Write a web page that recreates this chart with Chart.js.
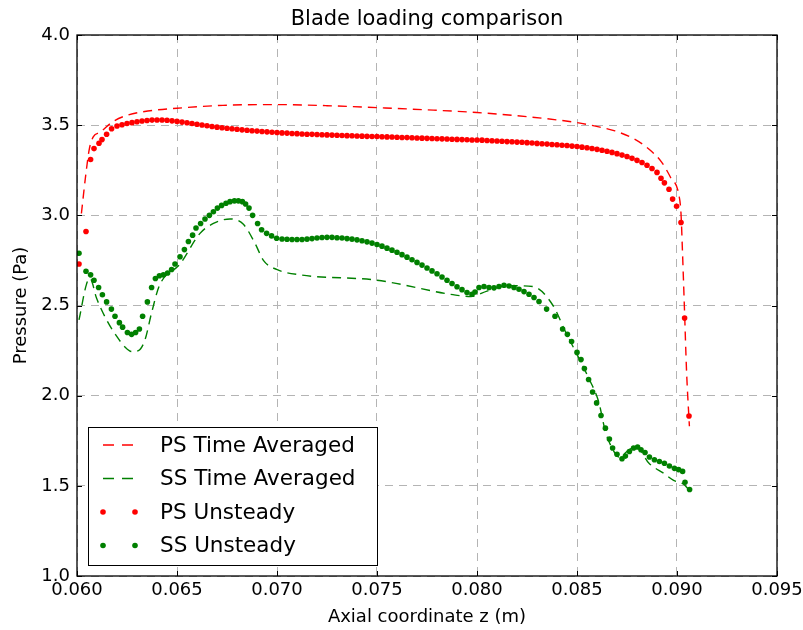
<!DOCTYPE html>
<html>
<head>
<meta charset="utf-8">
<script src="https://cdn.jsdelivr.net/npm/chart.js@4.4.1/dist/chart.umd.min.js"></script>
<style>
  html, body { margin: 0; padding: 0; background: #fff; }
  #wrap { width: 803px; height: 630px; }
</style>
</head>
<body>
<div id="wrap"><canvas id="bladeChart" width="803" height="630"></canvas></div>
<script>
// data
const psAvgZ = [0.06022, 0.06045, 0.06062, 0.06082, 0.06115, 0.0618, 0.06257, 0.06365, 0.065, 0.0673, 0.070, 0.0725, 0.075, 0.0775, 0.080, 0.0825, 0.085, 0.08615, 0.0869, 0.08782, 0.08862, 0.08923, 0.08968, 0.0901, 0.0902, 0.09027, 0.09037, 0.09048, 0.09062];
const psAvgP = [3.01, 3.235, 3.37, 3.436, 3.46, 3.52, 3.557, 3.58, 3.594, 3.61, 3.614, 3.608, 3.597, 3.585, 3.57, 3.547, 3.514, 3.489, 3.468, 3.426, 3.365, 3.295, 3.21, 3.11, 3.01, 2.81, 2.49, 2.13, 1.83];

const ssAvgZ = [0.0601, 0.06048, 0.06065, 0.06098, 0.06148, 0.06198, 0.0624, 0.06273, 0.06307, 0.0634, 0.06373, 0.06412, 0.06515, 0.06615, 0.06682, 0.06765, 0.06832, 0.0689, 0.06932, 0.06998, 0.07115, 0.075, 0.0788, 0.0797, 0.0805, 0.0815, 0.0828, 0.0838, 0.0844, 0.0849, 0.08555, 0.0861, 0.0864, 0.08675, 0.0871, 0.0876, 0.08795, 0.0886, 0.08933, 0.08983, 0.09032, 0.09058];
const ssAvgP = [2.42, 2.62, 2.65, 2.54, 2.42, 2.33, 2.27, 2.245, 2.25, 2.31, 2.46, 2.61, 2.73, 2.90, 2.955, 2.98, 2.95, 2.845, 2.75, 2.70, 2.67, 2.64, 2.56, 2.55, 2.58, 2.61, 2.605, 2.50, 2.36, 2.25, 2.105, 1.96, 1.81, 1.71, 1.66, 1.70, 1.72, 1.625, 1.57, 1.53, 1.51, 1.48];

const psUnsZ = [0.0601, 0.06045, 0.06068, 0.06085, 0.0611, 0.06125, 0.06148, 0.06173,
  0.06200, 0.06225, 0.06250, 0.06275, 0.06300, 0.06325, 0.06350, 0.06375, 0.06400, 0.06425,
  0.06450, 0.06475, 0.06500, 0.06525, 0.06550, 0.06575, 0.06600, 0.06625, 0.06650, 0.06675,
  0.06700, 0.06725, 0.06750, 0.06775, 0.06800, 0.06825, 0.06850, 0.06875, 0.06900, 0.06925,
  0.06950, 0.06975, 0.07000, 0.07025, 0.07050, 0.07075, 0.07100, 0.07125, 0.07150, 0.07175,
  0.07200, 0.07225, 0.07250, 0.07275, 0.07300, 0.07325, 0.07350, 0.07375, 0.07400, 0.07425,
  0.07450, 0.07475, 0.07500, 0.07525, 0.07550, 0.07575, 0.07600, 0.07625, 0.07650, 0.07675,
  0.07700, 0.07725, 0.07750, 0.07775, 0.07800, 0.07825, 0.07850, 0.07875, 0.07900, 0.07925,
  0.07950, 0.07975, 0.08000, 0.08025, 0.08050, 0.08075, 0.08100, 0.08125, 0.08150, 0.08175,
  0.08200, 0.08225, 0.08250, 0.08275, 0.08300, 0.08325, 0.08350, 0.08375, 0.08400, 0.08425,
  0.08450, 0.08475, 0.08500, 0.08525, 0.08550, 0.08575, 0.08600, 0.08625, 0.08650, 0.08675,
  0.08700, 0.08725, 0.08750, 0.08775, 0.08800, 0.08825, 0.08850, 0.08875, 0.08900,
  0.0892, 0.08937, 0.0896, 0.08978, 0.08998, 0.0902, 0.09038, 0.0906];
const psUnsP = [2.73, 2.91, 3.31, 3.37, 3.40, 3.42, 3.45, 3.48,
  3.495, 3.502, 3.509, 3.514, 3.519, 3.523, 3.526, 3.528, 3.529, 3.529,
  3.527, 3.524, 3.521, 3.517, 3.513, 3.509, 3.505, 3.501, 3.497, 3.493,
  3.489, 3.486, 3.483, 3.480, 3.477, 3.474, 3.472, 3.469, 3.467, 3.465,
  3.463, 3.461, 3.459, 3.457, 3.456, 3.454, 3.453, 3.451, 3.450, 3.449,
  3.448, 3.447, 3.446, 3.445, 3.444, 3.443, 3.442, 3.441, 3.440, 3.439,
  3.438, 3.437, 3.437, 3.436, 3.435, 3.434, 3.433, 3.432, 3.431, 3.430,
  3.429, 3.428, 3.427, 3.426, 3.425, 3.424, 3.423, 3.422, 3.421, 3.420,
  3.419, 3.418, 3.418, 3.417, 3.415, 3.414, 3.412, 3.411, 3.409, 3.408,
  3.406, 3.405, 3.403, 3.401, 3.399, 3.397, 3.395, 3.393, 3.391, 3.389,
  3.387, 3.384, 3.382, 3.378, 3.375, 3.371, 3.366, 3.361, 3.355, 3.349,
  3.342, 3.334, 3.326, 3.316, 3.305, 3.293, 3.278, 3.260, 3.238,
  3.206, 3.18, 3.145, 3.09, 3.05, 2.96, 2.43, 1.887];

const ssUnsZ = [0.0601, 0.06045, 0.06068, 0.06085, 0.06108, 0.06127, 0.06148, 0.06172, 0.0619, 0.06212,
  0.06228, 0.06252, 0.06273, 0.06293, 0.06312, 0.06328, 0.06352, 0.06373, 0.06392, 0.06412,
  0.06432, 0.06453, 0.06473, 0.0649, 0.06515, 0.06537, 0.06557, 0.06578, 0.06595, 0.06618,
  0.0664, 0.06662, 0.06682, 0.06702, 0.06723, 0.06745, 0.06765, 0.06787, 0.06807, 0.06827,
  0.06843, 0.0686, 0.06878, 0.06903, 0.06923, 0.06948, 0.06973, 0.06998,
  0.07025, 0.0705, 0.07075, 0.071, 0.07125, 0.0715, 0.07175, 0.072, 0.07225, 0.0725,
  0.07275, 0.073, 0.07325, 0.0735, 0.07375, 0.074, 0.07425, 0.0745, 0.07475, 0.075,
  0.07525, 0.0755, 0.07575, 0.076, 0.07625, 0.0765, 0.07675, 0.077, 0.07725, 0.0775,
  0.07775, 0.078, 0.07825, 0.0785, 0.07875, 0.079, 0.07925, 0.0795, 0.07975, 0.0799,
  0.0801, 0.08035, 0.0806, 0.08085, 0.0811, 0.08135, 0.0816, 0.08185, 0.0821, 0.08235,
  0.0826, 0.08285, 0.0831, 0.08348, 0.0839, 0.08428, 0.08452, 0.08473, 0.0850, 0.0852,
  0.08537, 0.08558, 0.08578, 0.08598, 0.0862, 0.08642, 0.08662, 0.08678, 0.087, 0.08725,
  0.08742, 0.08762, 0.08783, 0.08803, 0.0882, 0.0884, 0.08862, 0.08887, 0.08912, 0.08937,
  0.08962, 0.08987, 0.09008, 0.09028, 0.0904, 0.09063];
const ssUnsP = [2.79, 2.69, 2.67, 2.64, 2.60, 2.56, 2.52, 2.48, 2.44, 2.405,
  2.38, 2.35, 2.34, 2.35, 2.37, 2.44, 2.52, 2.60, 2.65, 2.665,
  2.67, 2.68, 2.70, 2.73, 2.77, 2.81, 2.855, 2.89, 2.93, 2.955,
  2.98, 3.00, 3.02, 3.04, 3.055, 3.067, 3.076, 3.08, 3.08, 3.076,
  3.063, 3.04, 3.00, 2.955, 2.92, 2.90, 2.886, 2.873,
  2.869, 2.867, 2.866, 2.866, 2.866, 2.868, 2.871, 2.874, 2.877, 2.878,
  2.878, 2.876, 2.874, 2.871, 2.868, 2.864, 2.859, 2.853, 2.846, 2.838,
  2.829, 2.818, 2.807, 2.795, 2.782, 2.768, 2.754, 2.739, 2.724, 2.708,
  2.692, 2.676, 2.658, 2.64, 2.622, 2.604, 2.588, 2.572, 2.562, 2.575,
  2.60, 2.605, 2.60, 2.598, 2.605, 2.612, 2.608, 2.60, 2.59, 2.577,
  2.562, 2.544, 2.522, 2.48, 2.44, 2.37, 2.34, 2.30, 2.24, 2.20,
  2.15, 2.09, 2.02, 1.96, 1.89, 1.82, 1.76, 1.71, 1.675, 1.65,
  1.665, 1.69, 1.71, 1.715, 1.70, 1.685, 1.66, 1.645, 1.635, 1.625,
  1.61, 1.597, 1.59, 1.58, 1.52, 1.48];

const xTicks = [0.060, 0.065, 0.070, 0.075, 0.080, 0.085, 0.090, 0.095];
const yTicks = [1.0, 1.5, 2.0, 2.5, 3.0, 3.5, 4.0];

const FONT = 'DejaVu Sans';
const pts = (zs, ps) => zs.map((z, i) => ({ x: z, y: ps[i] }));

// 범례, 제목, 테두리를 직접 그림
const framePlugin = {
  id: 'frame',
  afterDraw(chart) {
    const { ctx, chartArea: a, scales } = chart;
    ctx.save();
    // inward ticks
    ctx.strokeStyle = '#000';
    ctx.lineWidth = 1;
    ctx.beginPath();
    xTicks.forEach(t => {
      const px = Math.round(scales.x.getPixelForValue(t)) + 0.5;
      ctx.moveTo(px, a.bottom); ctx.lineTo(px, a.bottom - 5);
      ctx.moveTo(px, a.top); ctx.lineTo(px, a.top + 5);
    });
    yTicks.forEach(t => {
      const py = Math.round(scales.y.getPixelForValue(t)) + 0.5;
      ctx.moveTo(a.left, py); ctx.lineTo(a.left + 5, py);
      ctx.moveTo(a.right, py); ctx.lineTo(a.right - 5, py);
    });
    ctx.stroke();
    ctx.lineWidth = 1.3;
    ctx.strokeRect(a.left, a.top, a.right - a.left, a.bottom - a.top);

    // title
    ctx.fillStyle = '#000';
    ctx.font = '21px "' + FONT + '"';
    ctx.textAlign = 'center';
    ctx.textBaseline = 'alphabetic';
    ctx.fillText('Blade loading comparison', (a.left + a.right) / 2, 25);

    // legend
    const bx = 88, by = 427, bw = 289, bh = 138;
    ctx.fillStyle = '#fff';
    ctx.fillRect(bx, by, bw, bh);
    ctx.lineWidth = 1;
    ctx.strokeStyle = '#000';
    ctx.strokeRect(bx + 0.5, by + 0.5, bw, bh);
    ctx.font = '21.5px "' + FONT + '"';
    ctx.textAlign = 'left';
    ctx.textBaseline = 'middle';
    chart.data.datasets.forEach((ds, i) => {
      const cy = by + 18 + i * 33.5;
      if (ds.showLine) {
        ctx.strokeStyle = ds.borderColor;
        ctx.lineWidth = ds.borderWidth;
        ctx.setLineDash([11, 8]);
        ctx.beginPath();
        ctx.moveTo(103, cy); ctx.lineTo(133, cy);
        ctx.stroke();
        ctx.setLineDash([]);
      } else {
        ctx.fillStyle = ds.backgroundColor;
        [103, 135].forEach(px => {
          ctx.beginPath();
          ctx.arc(px, cy, 2.8, 0, Math.PI * 2);
          ctx.fill();
        });
      }
      ctx.fillStyle = '#000';
      ctx.fillText(ds.label, 160, cy + 1);
    });
    ctx.restore();
  }
};

const data = {
  datasets: [
    {
      label: 'PS Time Averaged',
      data: pts(psAvgZ, psAvgP),
      showLine: true,
      borderColor: '#ff0000',
      borderWidth: 1.4,
      borderDash: [9, 6],
      pointRadius: 0,
      cubicInterpolationMode: 'monotone',
      order: 4
    },
    {
      label: 'SS Time Averaged',
      data: pts(ssAvgZ, ssAvgP),
      showLine: true,
      borderColor: '#008000',
      borderWidth: 1.4,
      borderDash: [9, 6],
      pointRadius: 0,
      cubicInterpolationMode: 'monotone',
      order: 3
    },
    {
      label: 'PS Unsteady',
      data: pts(psUnsZ, psUnsP),
      showLine: false,
      backgroundColor: '#ff0000',
      borderWidth: 0,
      pointRadius: 2.8,
      order: 2
    },
    {
      label: 'SS Unsteady',
      data: pts(ssUnsZ, ssUnsP),
      showLine: false,
      backgroundColor: '#008000',
      borderWidth: 0,
      pointRadius: 2.8,
      order: 1
    }
  ]
};

const options = {
  responsive: false,
  animation: false,
  devicePixelRatio: 1,
  layout: { padding: { top: 35, right: 26, bottom: 0, left: 0 } },
  plugins: { legend: { display: false }, title: { display: false }, tooltip: { enabled: false } },
  scales: {
    x: {
      type: 'linear',
      min: 0.060,
      max: 0.095,
      afterFit: s => { s.height = 54; s.paddingLeft = 0; s.paddingRight = 0; },
      afterBuildTicks: s => { s.ticks = xTicks.map(v => ({ value: v })); },
      ticks: {
        autoSkip: false,
        maxRotation: 0,
        padding: 4,
        color: '#000',
        font: { family: FONT, size: 18 },
        callback: v => v.toFixed(3)
      },
      grid: { color: '#b4b4b4', lineWidth: 1, drawTicks: false },
      border: { display: false, dash: [8, 6] },
      title: {
        display: true,
        text: 'Axial coordinate z (m)',
        color: '#000',
        font: { family: FONT, size: 18 },
        padding: { top: 0, bottom: 2 }
      }
    },
    y: {
      type: 'linear',
      min: 1.0,
      max: 4.0,
      afterFit: s => { s.width = 77; s.paddingTop = 0; s.paddingBottom = 0; },
      afterBuildTicks: s => { s.ticks = yTicks.map(v => ({ value: v })); },
      ticks: {
        padding: 7,
        color: '#000',
        font: { family: FONT, size: 18 },
        callback: v => v.toFixed(1)
      },
      grid: { color: '#b4b4b4', lineWidth: 1, drawTicks: false },
      border: { display: false, dash: [8, 6] },
      title: {
        display: true,
        text: 'Pressure (Pa)',
        color: '#000',
        font: { family: FONT, size: 18 },
        padding: { top: 11, bottom: 0 }
      }
    }
  }
};

const ctx = document.getElementById('bladeChart').getContext('2d');
const bladeChart = new Chart(ctx, {
  type: 'scatter',
  data: data,
  options: options,
  plugins: [framePlugin]
});
</script>
</body>
</html>
